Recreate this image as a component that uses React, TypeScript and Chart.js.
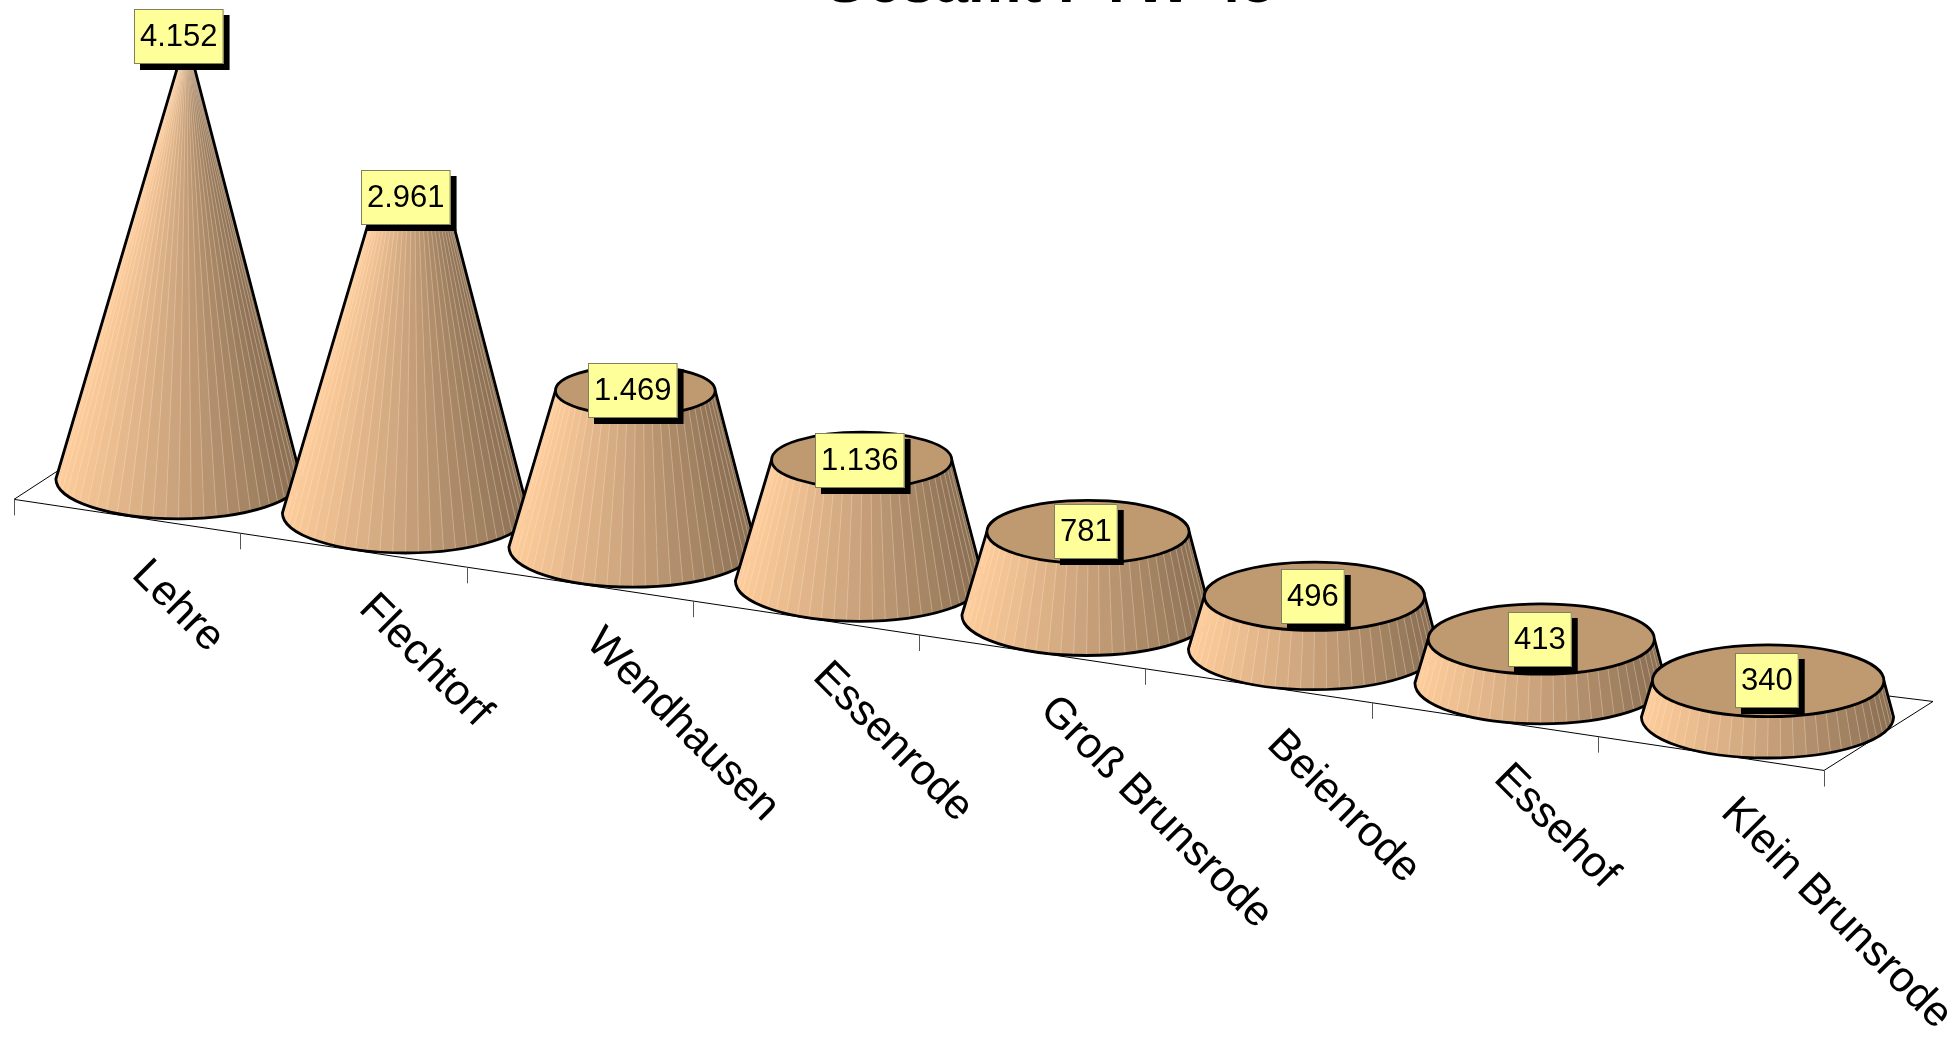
import React, { useEffect, useRef } from "react";
import { Chart, registerables } from "chart.js";

Chart.register(...registerables);

const TITLE = "Gesamt PTW 45";
const CATEGORIES = ["Lehre", "Flechtorf", "Wendhausen", "Essenrode", "Groß Brunsrode", "Beienrode", "Essehof", "Klein Brunsrode"];
const VALUES = [4152, 2961, 1469, 1136, 781, 496, 413, 340];

const CANVAS_W = 1953;
const CANVAS_H = 1100;
const CANVAS_TOP = -60;

const STOPS: [number, number, number][] = [
  [255, 205, 155],
  [200, 161, 122],
  [138, 111, 83],
];

function mix(t: number): string {
  const p = Math.max(0, Math.min(0.9999, t)) * (STOPS.length - 1);
  const k = Math.floor(p);
  const f = p - k;
  const c = STOPS[k].map((v, j) => Math.round(v + (STOPS[k + 1][j] - v) * f));
  return `rgb(${c[0]},${c[1]},${c[2]})`;
}

const coneDrawer = {
  id: "coneDrawer",
  afterLayout(chart: any) {
    // the reference's title sits right of the plot centre
    chart.titleBlock.left += 150;
  },
  beforeDatasetsDraw(chart: any) {
    const { ctx } = chart;
    const xs = chart.scales.x;
    const ys = chart.scales.y;
    const n = VALUES.length;
    const step = xs.getPixelForValue(1) - xs.getPixelForValue(0);
    const zero = ys.getPixelForValue(0);
    const slope = 34 / step;
    const maxV = Math.max(...VALUES);
    const ratio = 0.325;
    const baseY = (i: number) => zero - (n - 1 - i) * slope * step;
    const rim = (x: number) => zero + slope * (x - xs.getPixelForValue(n - 1));

    ctx.save();
    // floor plate
    const f0x = xs.getPixelForValue(0) - step / 2 - 51;
    const fEnd = f0x + n * step - 6;
    const frontY = (x: number) => rim(x) + 45;
    const backL = { x: f0x + 43, y: frontY(f0x) - 28 };
    const backR = { x: fEnd + 109, y: frontY(fEnd) - 69 };
    ctx.strokeStyle = "#000";
    ctx.lineWidth = 1;
    ctx.beginPath();
    ctx.moveTo(backL.x, backL.y);
    ctx.lineTo(f0x, frontY(f0x));
    ctx.lineTo(fEnd, frontY(fEnd));
    ctx.lineTo(backR.x, backR.y);
    ctx.lineTo(backL.x, backL.y);
    ctx.stroke();
    ctx.strokeStyle = "#555";
    for (let i = 0; i <= n; i++) {
      const tx = Math.round(f0x + (i * (fEnd - f0x)) / n) + 0.5;
      ctx.beginPath();
      ctx.moveTo(tx, frontY(tx));
      ctx.lineTo(tx, frontY(tx) + 16);
      ctx.stroke();
    }

    // cones
    const meta = chart.getDatasetMeta(0);
    VALUES.forEach((v, i) => {
      const cx = meta.data[i].x;
      const by = baseY(i);
      const h = zero - ys.getPixelForValue(v);
      const ty = by - h;
      const tx = cx + h * 0.018;
      const baseRx = 122.6 + i * 0.5;
      const topRx = baseRx * (1 - v / maxV);
      const topRy = topRx * 0.31;
      const baseRy = baseRx * ratio;
      const N = 30;
      for (let s = 0; s < N; s++) {
        const a0 = Math.PI - (s / N) * Math.PI;
        const a1 = Math.PI - ((s + 1) / N) * Math.PI;
        ctx.beginPath();
        ctx.moveTo(cx + Math.cos(a0) * baseRx, by + Math.sin(a0) * baseRy);
        ctx.lineTo(cx + Math.cos(a1) * baseRx, by + Math.sin(a1) * baseRy);
        ctx.lineTo(tx + Math.cos(a1) * topRx, ty + Math.sin(a1) * topRy);
        ctx.lineTo(tx + Math.cos(a0) * topRx, ty + Math.sin(a0) * topRy);
        ctx.closePath();
        const mid = (a0 + a1) / 2;
        const col = mix((1 - Math.cos(Math.PI - mid)) / 2);
        ctx.fillStyle = col;
        ctx.strokeStyle = col;
        ctx.lineWidth = 0.6;
        ctx.fill();
        ctx.stroke();
      }
      // facet seams
      ctx.strokeStyle = "rgba(255,236,214,0.38)";
      ctx.lineWidth = 0.8;
      for (let s = 1; s < N; s++) {
        const a = Math.PI - (s / N) * Math.PI;
        ctx.beginPath();
        ctx.moveTo(cx + Math.cos(a) * baseRx, by + Math.sin(a) * baseRy);
        ctx.lineTo(tx + Math.cos(a) * topRx, ty + Math.sin(a) * topRy);
        ctx.stroke();
      }
      ctx.strokeStyle = "#000";
      ctx.lineWidth = 2.8;
      ctx.lineJoin = "round";
      ctx.beginPath();
      ctx.moveTo(tx - topRx, ty);
      ctx.lineTo(cx - baseRx, by);
      ctx.ellipse(cx, by, baseRx, baseRy, 0, Math.PI, 0, true);
      ctx.lineTo(tx + topRx, ty);
      ctx.stroke();
      if (topRx > 1) {
        ctx.beginPath();
        ctx.ellipse(tx, ty, topRx, topRy, 0, 0, Math.PI * 2);
        ctx.fillStyle = "#BF9A70";
        ctx.fill();
        ctx.stroke();
      }
    });

    // category labels
    ctx.fillStyle = "#000";
    ctx.font = "43px 'Liberation Sans'";
    ctx.textAlign = "left";
    ctx.textBaseline = "alphabetic";
    xs.getLabels().forEach((label: string, i: number) => {
      const lx = xs.getPixelForValue(i) - 48;
      const ly = baseY(i) + 97;
      ctx.save();
      ctx.translate(lx, ly);
      ctx.rotate(Math.PI / 4);
      ctx.fillText(label, 0, 0);
      ctx.restore();
    });
    ctx.restore();
  },
  afterDatasetsDraw(chart: any) {
    const { ctx } = chart;
    const ys = chart.scales.y;
    const n = VALUES.length;
    const meta = chart.getDatasetMeta(0);
    const zero = ys.getPixelForValue(0);
    ctx.save();
    ctx.font = "31px 'Liberation Sans'";
    ctx.textAlign = "center";
    ctx.textBaseline = "middle";
    VALUES.forEach((v, i) => {
      const text = v.toLocaleString("de-DE");
      const h = zero - ys.getPixelForValue(v);
      const ty = zero - (n - 1 - i) * 34 - h;
      const w = ctx.measureText(text).width + 12;
      const hBox = 55;
      const bx = Math.round(meta.data[i].x + 0.5 - 0.2 * i - w / 2);
      const by = Math.round(ty - hBox / 2);
      ctx.fillStyle = "#000";
      ctx.fillRect(bx + 6, by + 6, w, hBox);
      ctx.fillStyle = "#FFFF99";
      ctx.fillRect(bx, by, w, hBox);
      ctx.strokeStyle = "#808060";
      ctx.lineWidth = 1;
      ctx.strokeRect(bx + 0.5, by + 0.5, w - 1, hBox - 1);
      ctx.fillStyle = "#000";
      ctx.fillText(text, bx + w / 2, by + hBox / 2 + 1);
    });
    ctx.restore();
  },
};

export default function App() {
  const ref = useRef<HTMLCanvasElement | null>(null);
  useEffect(() => {
    const chart = new Chart(ref.current as HTMLCanvasElement, {
      type: "bar",
      data: {
        labels: CATEGORIES,
        datasets: [{ data: VALUES, backgroundColor: "rgba(0,0,0,0)", borderWidth: 0 }],
      },
      options: {
        animation: false,
        responsive: false,
        devicePixelRatio: 1,
        layout: { padding: { left: 65, right: 72, top: 0, bottom: 323 } },
        plugins: {
          legend: { display: false },
          tooltip: { enabled: false },
          title: {
            display: true,
            text: TITLE,
            color: "#000",
            font: { family: "'Liberation Sans'", size: 60, weight: "bold" },
            padding: { top: 9, bottom: 57 },
          },
        },
        scales: {
          x: { display: false },
          y: { display: false, min: 0, max: 6000 },
        },
      },
      plugins: [coneDrawer],
    } as any);
    return () => chart.destroy();
  }, []);
  return (
    <canvas
      ref={ref}
      width={CANVAS_W}
      height={CANVAS_H}
      style={{ position: "fixed", left: 0, top: CANVAS_TOP, width: CANVAS_W, height: CANVAS_H }}
    />
  );
}
